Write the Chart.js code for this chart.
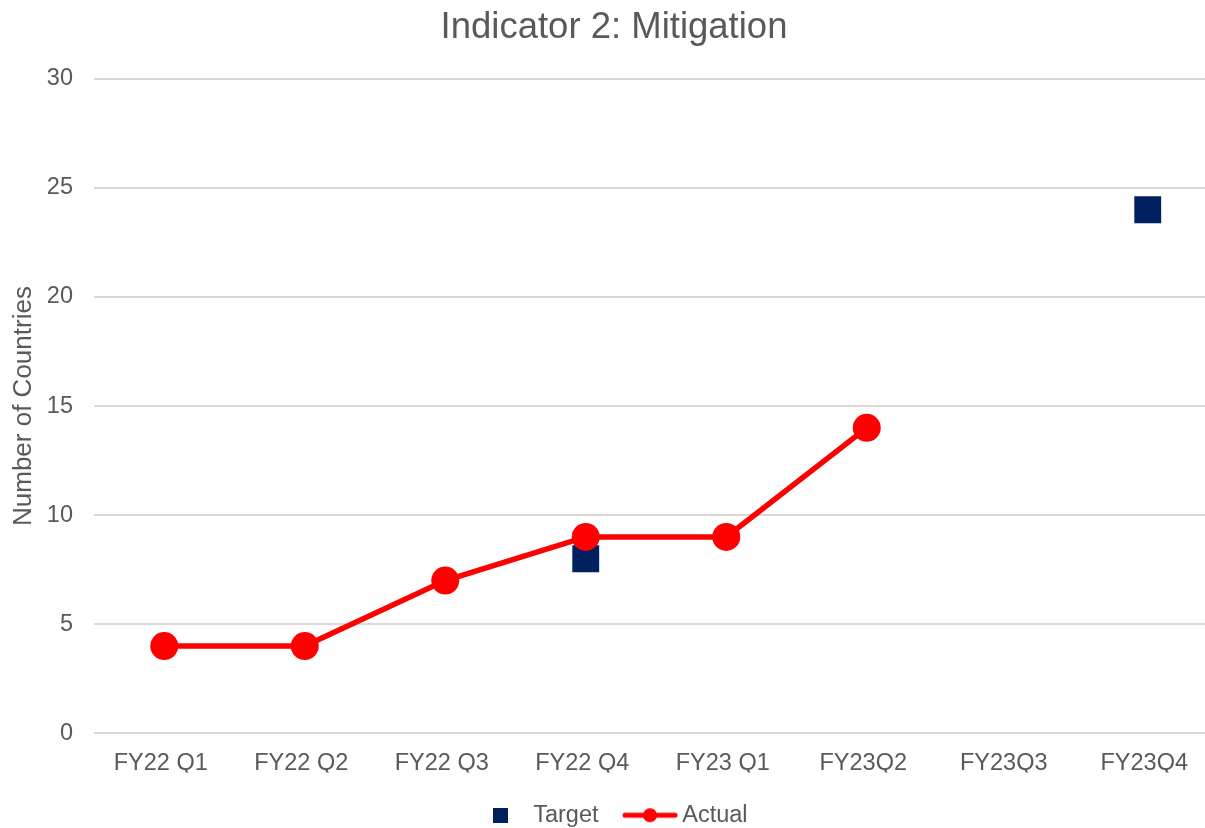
<!DOCTYPE html>
<html>
<head>
<meta charset="utf-8">
<script src="https://cdn.jsdelivr.net/npm/chart.js@4"></script>
<style>
  html, body { margin: 0; padding: 0; background: #ffffff; overflow: hidden; width: 1205px; height: 828px; }
  #wrap { width: 1240px; height: 828px; position: relative; }
</style>
</head>
<body>
<div id="wrap"><canvas id="c"></canvas></div>
<script>
const categories = ['FY22 Q1', 'FY22 Q2', 'FY22 Q3', 'FY22 Q4', 'FY23 Q1', 'FY23Q2', 'FY23Q3', 'FY23Q4'];
const targetValues = [null, null, null, 8, null, null, null, 24];
const actualValues = [4, 4, 7, 9, 9, 14, null, null];
const yTicks = [0, 5, 10, 15, 20, 25, 30];
const chartTitle = 'Indicator 2: Mitigation';
const yAxisTitle = 'Number of Countries';
const seriesNames = ['Target', 'Actual'];

const FONT = '"Liberation Sans", Arial, Helvetica, sans-serif';
const TEXT = '#595959';
const RED = '#FF0000';
const NAVY = '#002060';

function makeTargetIcon() {
  const c = document.createElement('canvas');
  c.width = 15; c.height = 15;
  const g = c.getContext('2d');
  g.fillStyle = NAVY;
  g.fillRect(0, 0, 15, 15);
  return c;
}
function makeActualIcon() {
  const c = document.createElement('canvas');
  c.width = 56; c.height = 20;
  const g = c.getContext('2d');
  g.strokeStyle = RED;
  g.lineWidth = 5;
  g.lineCap = 'round';
  g.beginPath(); g.moveTo(3, 10); g.lineTo(53, 10); g.stroke();
  g.fillStyle = RED;
  g.beginPath(); g.arc(28, 10, 7, 0, Math.PI * 2); g.fill();
  return c;
}
const icons = [makeTargetIcon(), makeActualIcon()];

new Chart(document.getElementById('c'), {
  type: 'line',
  data: {
    labels: categories,
    datasets: [
      {
        label: seriesNames[0],
        data: targetValues,
        showLine: false,
        pointStyle: 'rect',
        pointRadius: 19,
        pointHoverRadius: 19,
        backgroundColor: NAVY,
        borderColor: NAVY,
        pointBorderWidth: 0,
        order: 1
      },
      {
        label: seriesNames[1],
        data: actualValues,
        borderColor: RED,
        backgroundColor: RED,
        borderWidth: 5.5,
        pointStyle: 'circle',
        pointRadius: 14,
        pointHoverRadius: 14,
        pointBorderWidth: 0,
        tension: 0,
        order: 0
      }
    ]
  },
  options: {
    responsive: true,
    maintainAspectRatio: false,
    animation: false,
    events: [],
    layout: { padding: { left: 10, right: 22, top: 0, bottom: -9 } },
    plugins: {
      title: {
        display: true,
        text: chartTitle,
        color: TEXT,
        font: { family: FONT, size: 36.5, weight: 'normal' },
        padding: { top: 6, bottom: 29 }
      },
      legend: {
        display: true,
        position: 'bottom',
        labels: {
          font: { family: FONT, size: 23.5 },
          color: TEXT,
          usePointStyle: true,
          pointStyleWidth: 41,
          padding: 31,
          generateLabels: function (chart) {
            return seriesNames.map((n, i) => ({
              text: n,
              fillStyle: i === 0 ? NAVY : RED,
              strokeStyle: i === 0 ? NAVY : RED,
              fontColor: TEXT,
              lineWidth: 0,
              pointStyle: icons[i],
              hidden: false,
              datasetIndex: i
            }));
          }
        }
      },
      tooltip: { enabled: false }
    },
    scales: {
      x: {
        type: 'category',
        offset: true,
        afterFit: function (scale) {
          scale.height -= 21;
        },
        grid: { display: false, drawTicks: false },
        border: { display: false },
        ticks: {
          color: TEXT,
          font: { family: FONT, size: 23.5 },
          padding: 16,
          labelOffset: -3.5,
          maxRotation: 0,
          autoSkip: false
        }
      },
      y: {
        min: 0,
        max: 30,
        afterBuildTicks: function (scale) {
          scale.ticks = yTicks.map(v => ({ value: v }));
        },
        afterFit: function (scale) {
          scale.width = 84;
        },
        grid: { color: '#D9D9D9', lineWidth: 2, drawTicks: false },
        border: { display: false },
        ticks: {
          color: TEXT,
          font: { family: FONT, size: 23.5 },
          padding: 21
        },
        title: {
          display: true,
          text: yAxisTitle,
          color: TEXT,
          font: { family: FONT, size: 26 },
          padding: { top: -2, bottom: 0 }
        }
      }
    }
  }
});
</script>
</body>
</html>
